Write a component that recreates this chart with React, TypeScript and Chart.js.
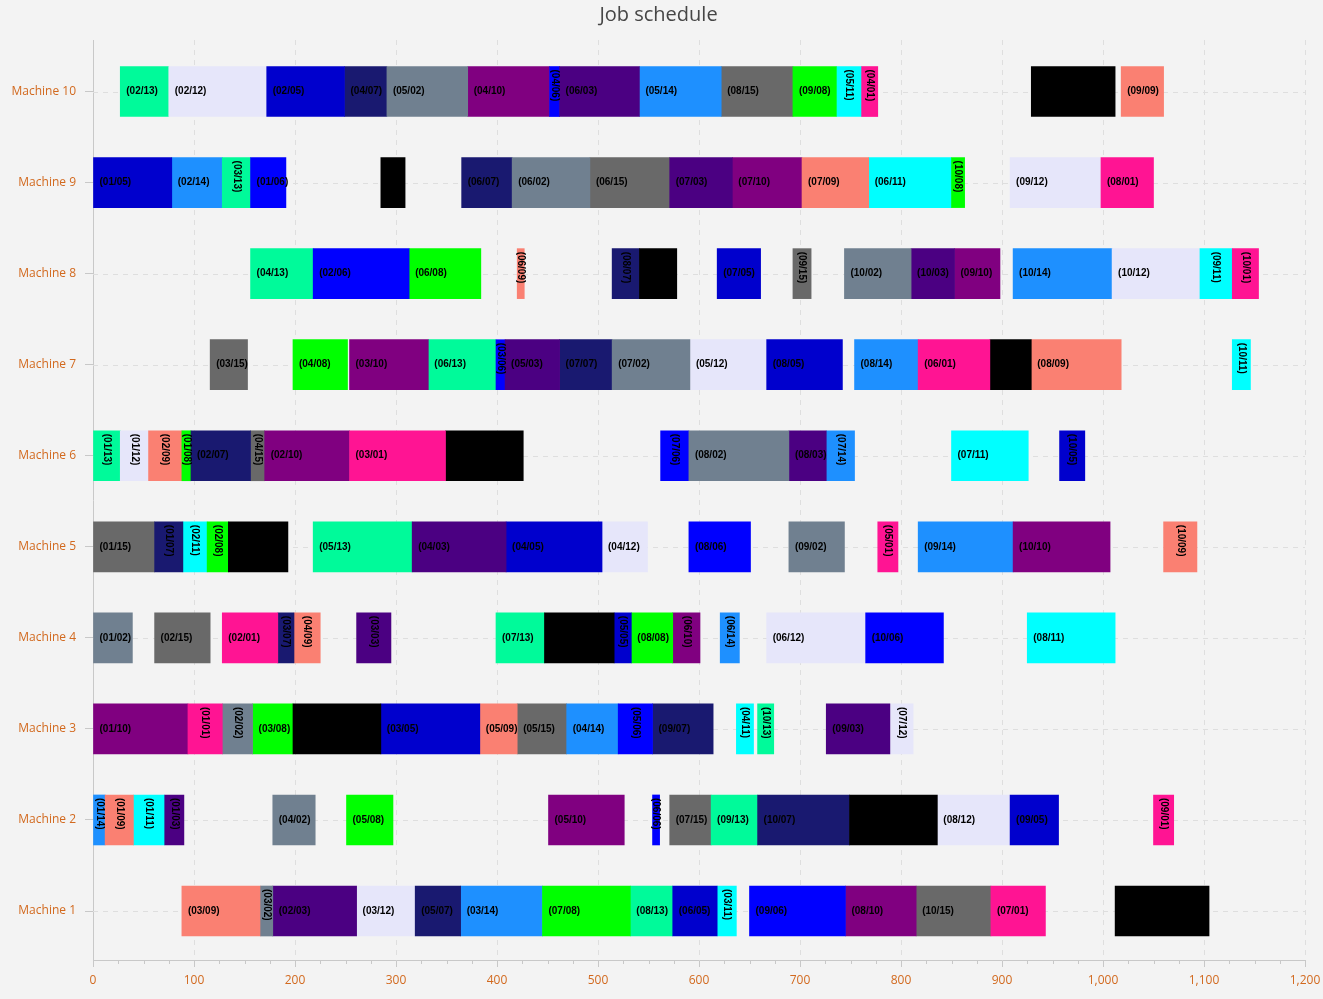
import React, { useEffect, useRef } from 'react';
import { Chart, registerables } from 'chart.js';

Chart.register(...registerables);

// Job colours (index = job number - 1)
const jobColors = [
  '#FF1493', '#708090', '#4B0082', '#000000', '#0000CD',
  '#0000FF', '#191970', '#00FF00', '#FA8072', '#800080',
  '#00FFFF', '#E6E6FA', '#00FA9A', '#1E90FF', '#696969',
];

const machineNames = ['Machine 1', 'Machine 2', 'Machine 3', 'Machine 4', 'Machine 5', 'Machine 6', 'Machine 7', 'Machine 8', 'Machine 9', 'Machine 10'];

// [start, end, operation, job]
const machine10 = [
  [27, 75, 2, 13], [75, 172, 2, 12], [172, 249, 2, 5], [249, 291, 4, 7], [291, 371, 5, 2],
  [371, 452, 4, 10], [452, 462, 4, 6], [462, 541, 6, 3], [541, 622, 5, 14], [622, 693, 8, 15],
  [693, 736, 9, 8], [736, 761, 5, 11], [761, 777, 4, 1], [929, 1012, 9, 4], [1018, 1060, 9, 9],
];
const machine9 = [
  [0, 78, 1, 5], [78, 128, 2, 14], [128, 156, 3, 13], [156, 191, 1, 6], [285, 309, 3, 4],
  [365, 415, 6, 7], [415, 492, 6, 2], [492, 571, 6, 15], [571, 633, 7, 3], [633, 702, 7, 10],
  [702, 768, 7, 9], [768, 850, 6, 11], [850, 863, 10, 8], [908, 998, 9, 12], [998, 1050, 8, 1],
];
const machine8 = [
  [156, 218, 4, 13], [218, 313, 2, 6], [313, 384, 6, 8], [420, 427, 6, 9], [514, 541, 8, 7],
  [541, 578, 6, 4], [618, 661, 7, 5], [693, 711, 9, 15], [744, 810, 10, 2], [810, 853, 10, 3],
  [853, 898, 9, 10], [911, 1009, 10, 14], [1009, 1096, 10, 12], [1096, 1128, 9, 11], [1128, 1154, 10, 1],
];
const machine7 = [
  [116, 153, 3, 15], [198, 252, 4, 8], [254, 332, 3, 10], [332, 399, 6, 13], [399, 408, 3, 6],
  [408, 462, 5, 3], [462, 514, 7, 7], [514, 591, 7, 2], [591, 667, 5, 12], [667, 742, 8, 5],
  [754, 817, 8, 14], [817, 888, 6, 1], [888, 929, 8, 4], [929, 1018, 8, 9], [1128, 1146, 10, 11],
];
const machine6 = [
  [0, 27, 1, 13], [27, 55, 1, 12], [55, 88, 2, 9], [88, 97, 1, 8], [97, 156, 2, 7],
  [156, 170, 4, 15], [170, 254, 2, 10], [254, 349, 3, 1], [349, 426, 4, 4], [562, 590, 7, 6],
  [590, 689, 8, 2], [689, 726, 8, 3], [726, 754, 7, 14], [850, 926, 7, 11], [957, 982, 10, 5],
];
const machine5 = [
  [0, 61, 1, 15], [61, 89, 1, 7], [89, 113, 2, 11], [113, 134, 2, 8], [134, 193, 1, 4],
  [218, 316, 5, 13], [316, 409, 4, 3], [409, 504, 4, 5], [504, 549, 4, 12], [590, 651, 8, 6],
  [689, 744, 9, 2], [777, 797, 5, 1], [817, 911, 9, 14], [911, 1007, 10, 10], [1060, 1093, 10, 9],
];
const machine4 = [
  [0, 39, 1, 2], [61, 116, 2, 15], [128, 183, 2, 1], [183, 199, 3, 7], [199, 225, 4, 9],
  [261, 295, 3, 3], [399, 447, 7, 13], [447, 516, 5, 4], [516, 533, 5, 5], [533, 574, 8, 8],
  [574, 601, 6, 10], [621, 640, 6, 14], [667, 765, 6, 12], [765, 842, 10, 6], [925, 1012, 8, 11],
];
const machine3 = [
  [0, 94, 1, 10], [94, 128, 1, 1], [128, 158, 2, 2], [158, 198, 3, 8], [198, 285, 2, 4],
  [285, 383, 3, 5], [383, 420, 5, 9], [420, 469, 5, 15], [469, 520, 4, 14], [520, 554, 5, 6],
  [554, 614, 9, 7], [637, 654, 4, 11], [658, 674, 10, 13], [726, 789, 9, 3], [789, 812, 7, 12],
];
const machine2 = [
  [0, 12, 1, 14], [12, 40, 1, 9], [40, 71, 1, 11], [71, 90, 1, 3], [178, 220, 4, 2],
  [251, 297, 5, 8], [451, 526, 5, 10], [554, 561, 6, 6], [571, 612, 7, 15], [612, 658, 9, 13],
  [658, 749, 10, 7], [749, 836, 7, 4], [836, 908, 8, 12], [908, 956, 9, 5], [1050, 1070, 9, 1],
];
const machine1 = [
  [88, 166, 3, 9], [166, 178, 3, 2], [178, 261, 2, 3], [261, 319, 3, 12], [319, 364, 5, 7],
  [364, 445, 3, 14], [445, 532, 7, 8], [532, 574, 8, 13], [574, 618, 6, 5], [618, 637, 3, 11],
  [650, 745, 9, 6], [745, 815, 8, 10], [815, 889, 10, 15], [889, 943, 7, 1], [1012, 1105, 10, 4],
];

const machines = [machine1, machine2, machine3, machine4, machine5, machine6, machine7, machine8, machine9, machine10];

const X_MIN = 0;
const X_MAX = 1200;
const X_STEP = 100;
const X_MINOR = 25;

const pad2 = (n: number) => (n < 10 ? '0' + n : '' + n);

const gridPlugin = {
  id: 'customGrid',
  beforeDatasetsDraw(chart: any) {
    const { ctx, chartArea, scales } = chart;
    const { left, right, top, bottom } = chartArea;
    ctx.save();
    ctx.strokeStyle = '#dedede';
    ctx.lineWidth = 1;
    ctx.setLineDash([5, 5]);
    for (let v = X_MIN + X_STEP; v <= X_MAX; v += X_STEP) {
      const px = Math.round(scales.x.getPixelForValue(v)) + 0.5;
      ctx.beginPath();
      ctx.moveTo(px, top);
      ctx.lineTo(px, bottom);
      ctx.stroke();
    }
    for (let m = 1; m <= 10; m++) {
      const py = Math.round(scales.y.getPixelForValue(m)) + 0.5;
      ctx.beginPath();
      ctx.moveTo(left, py);
      ctx.lineTo(right, py);
      ctx.stroke();
    }
    ctx.restore();
  },
  afterDraw(chart: any) {
    const { ctx, chartArea, scales } = chart;
    const { bottom } = chartArea;
    ctx.save();
    ctx.strokeStyle = '#c8c8c8';
    ctx.lineWidth = 1;
    for (let v = X_MIN; v <= X_MAX; v += X_MINOR) {
      if (v % X_STEP === 0) continue;
      const px = Math.round(scales.x.getPixelForValue(v)) + 0.5;
      ctx.beginPath();
      ctx.moveTo(px, bottom);
      ctx.lineTo(px, bottom + 4);
      ctx.stroke();
    }
    // title
    ctx.fillStyle = '#464646';
    ctx.font = '20px "Open Sans", sans-serif';
    ctx.textAlign = 'center';
    ctx.textBaseline = 'middle';
    ctx.fillText('Job schedule', chart.width / 2 - 3, 15);
    ctx.restore();
  },
};

const labelPlugin = {
  id: 'barLabels',
  afterDatasetsDraw(chart: any) {
    const { ctx } = chart;
    ctx.save();
    ctx.font = 'bold 10px "Liberation Sans", Arial, sans-serif';
    ctx.fillStyle = '#000000';
    chart.data.datasets.forEach((ds: any, di: number) => {
      const meta = chart.getDatasetMeta(di);
      meta.data.forEach((el: any, i: number) => {
        const d = ds.data[i];
        const p = el.getProps(['x', 'y', 'base', 'height'], true);
        const l = Math.min(p.x, p.base);
        const r = Math.max(p.x, p.base);
        const w = r - l;
        const text = '(' + pad2(d.op) + '/' + pad2(d.job) + ')';
        const tw = ctx.measureText(text).width;
        if (w > tw + 3) {
          ctx.textAlign = 'left';
          ctx.textBaseline = 'middle';
          ctx.fillText(text, l + 6, p.y);
        } else {
          ctx.save();
          ctx.translate((l + r) / 2, p.y - p.height / 2 + 3);
          ctx.rotate(Math.PI / 2);
          ctx.textAlign = 'left';
          ctx.textBaseline = 'middle';
          ctx.fillText(text, 0, 0);
          ctx.restore();
        }
      });
    });
    ctx.restore();
  },
};

export default function App() {
  const canvasRef = useRef<HTMLCanvasElement | null>(null);

  useEffect(() => {
    document.body.style.margin = '0';
    document.body.style.background = '#f3f3f3';
    if (!canvasRef.current) return;

    const datasets = jobColors.map((color, ji) => {
      const job = ji + 1;
      const data: any[] = [];
      machines.forEach((tasks, mi) => {
        tasks.forEach((t) => {
          if (t[3] === job) data.push({ x: [t[0], t[1]], y: mi + 1, op: t[2], job: t[3] });
        });
      });
      return {
        label: 'Job ' + pad2(job),
        data,
        backgroundColor: color,
        borderWidth: 0,
        grouped: false,
        barThickness: 50,
      };
    });

    Chart.defaults.font.family = '"Open Sans", sans-serif';

    const chart = new Chart(canvasRef.current, {
      type: 'bar',
      data: { datasets: datasets as any },
      plugins: [gridPlugin, labelPlugin],
      options: {
        responsive: false,
        animation: false,
        indexAxis: 'y',
        layout: { padding: { top: 40, right: 18, left: 0, bottom: 0 } },
        plugins: {
          legend: { display: false },
          tooltip: { enabled: false },
          title: { display: false },
        },
        scales: {
          x: {
            type: 'linear',
            min: X_MIN,
            max: X_MAX,
            offset: false,
            grid: { display: true, drawOnChartArea: false, drawTicks: true, tickLength: 7, color: '#c8c8c8', offset: false },
            border: { display: true, color: '#c8c8c8' },
            ticks: {
              stepSize: X_STEP,
              color: '#d2691e',
              font: { size: 12, family: '"Open Sans", sans-serif' },
              padding: 6,
              maxRotation: 0,
              autoSkip: false,
              callback: (v: any) => Number(v).toLocaleString('en-US'),
            },
            afterFit: (s: any) => { s.height = 39; s.paddingRight = 0; s.paddingLeft = 0; },
          },
          y: {
            type: 'linear',
            min: 0.462,
            max: 10.566,
            offset: false,
            grid: { display: true, drawOnChartArea: false, drawTicks: true, tickLength: 8, color: '#c8c8c8', offset: false },
            border: { display: true, color: '#c8c8c8' },
            afterBuildTicks: (s: any) => {
              s.ticks = machineNames.map((_, i) => ({ value: i + 1 }));
            },
            ticks: {
              color: '#d2691e',
              font: { size: 12, family: '"Open Sans", sans-serif' },
              padding: 9,
              autoSkip: false,
              callback: (v: any) => machineNames[Number(v) - 1] || '',
            },
            afterFit: (s: any) => { s.width = 93; s.paddingTop = 0; s.paddingBottom = 0; },
          },
        },
      } as any,
    });

    return () => chart.destroy();
  }, []);

  return (
    <div style={{ width: 1323, height: 999, background: '#f3f3f3' }}>
      <canvas ref={canvasRef} width={1323} height={999} />
    </div>
  );
}
